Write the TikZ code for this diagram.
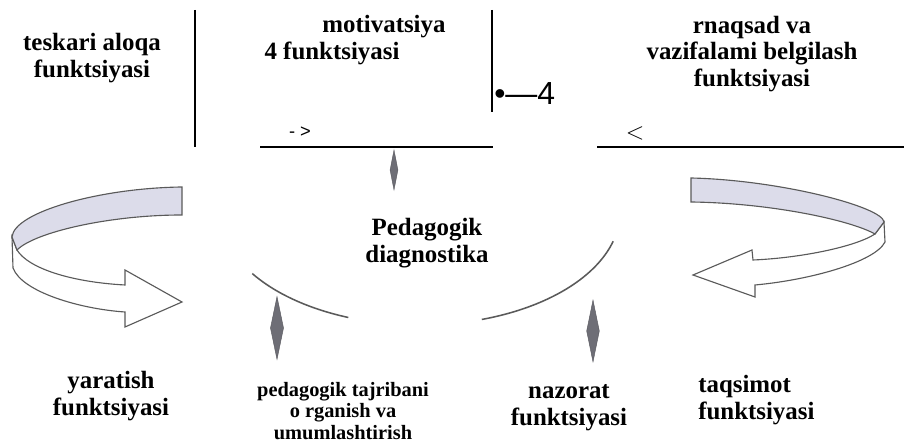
\documentclass[tikz,border=0pt]{standalone}
\usepackage{fontspec}
\setmainfont{Liberation Serif}
\newfontfamily\sansfont{Liberation Sans}
\usepackage{xcolor}
\usetikzlibrary{positioning,shapes.geometric}
\definecolor{bandfill}{HTML}{DCDCEA}
\definecolor{edgegray}{HTML}{5A5A5A}
\definecolor{spindle}{HTML}{6E6E76}

\begin{document}
\begin{tikzpicture}[x=0.025cm, y=-0.025cm,
  every node/.style={font=\bfseries\fontsize{17.7}{19.1}\selectfont, align=center, inner sep=0pt},
  small/.style={font=\bfseries\fontsize{14.5}{15.2}\selectfont},
  rule/.style={line width=1.4pt},
  band/.style={draw=edgegray, line width=0.8pt, fill=bandfill},
  bandback/.style={draw=edgegray, line width=0.8pt, fill=white},
  spike/.style={diamond, fill=spindle, draw=spindle!80!black, line width=0.3pt},
  arcline/.style={edgegray, line width=1.1pt}]
  \useasboundingbox (0,0) rectangle (904,444);
  % top row
  \node (a) at (92,58) {teskari aloqa\\funktsiyasi};
  \node (b) at (384,27) {motivatsiya};
  \node (b4) at (332,53) {4 funktsiyasi};
  \node (c) at (752,54) {rnaqsad va\\vazifalami belgilash\\funktsiyasi};
  \node (k) [anchor=base west, font=\sansfont\fontsize{22.7}{24}\selectfont] at (494,105) {•—4};
  \node (ar) [font=\sansfont\fontsize{13}{15}\selectfont] at (300,132) {- >};
  \node (lt) [font=\fontsize{17.7}{19}\selectfont] at (635,133) {$<$};
  \draw[rule] (195,10) -- (195,147);
  \draw[rule] (492,10) -- (492,112);
  \draw[rule] (260,147) -- (493,147);
  \draw[rule] (597,147) -- (904,147);
  % centre
  \node (p) at (427,243) {Pedagogik\\diagnostika};
  \draw[arcline] plot[domain=111:147, samples=40] ({420+200*cos(\x)}, {212+113*sin(\x)});
  \draw[arcline] plot[domain=15:72, samples=40] ({420+200*cos(\x)}, {212+113*sin(\x)});
  \node (dt) [spike, minimum width=0.2cm, minimum height=1cm] at (394,170) {};
  \node (dl) [spike, minimum width=0.33cm, minimum height=1.575cm] at (277,328) {};
  \node (dr) [spike, minimum width=0.32cm, minimum height=1.55cm] at (593,331) {};
  % ribbons
  \draw[bandback] (12,237) -- (13,268) .. controls (22,292) and (80,309) .. (125,312)
    -- (125,327) -- (182,302) -- (125,270) -- (125,285)
    .. controls (70,282) and (28,268) .. (17,250) -- cycle;
  \draw[band] (182,187) .. controls (100,188) and (14,212) .. (12,237) -- (17,250)
    .. controls (35,232) and (110,215) .. (182,215) -- cycle;
  \draw[bandback] (884,222) -- (885,242) .. controls (875,262) and (810,280) .. (755,285)
    -- (755,297) -- (693,275) -- (752,250) -- (753,260)
    .. controls (800,258) and (855,247) .. (875,234) -- cycle;
  \draw[band] (691,178) .. controls (780,180) and (883,207) .. (884,222) -- (875,234)
    .. controls (850,220) and (770,203) .. (691,202) -- cycle;
  % bottom row
  \node (y) at (111,396) {yaratish\\funktsiyasi};
  \node (t) [small] at (343,411) {pedagogik tajribani\\o rganish va\\umumlashtirish};
  \node (n) at (569,408) {nazorat\\funktsiyasi};
  \node (q) [align=left, anchor=west] at (698,400) {taqsimot\\funktsiyasi};
\end{tikzpicture}
\end{document}
